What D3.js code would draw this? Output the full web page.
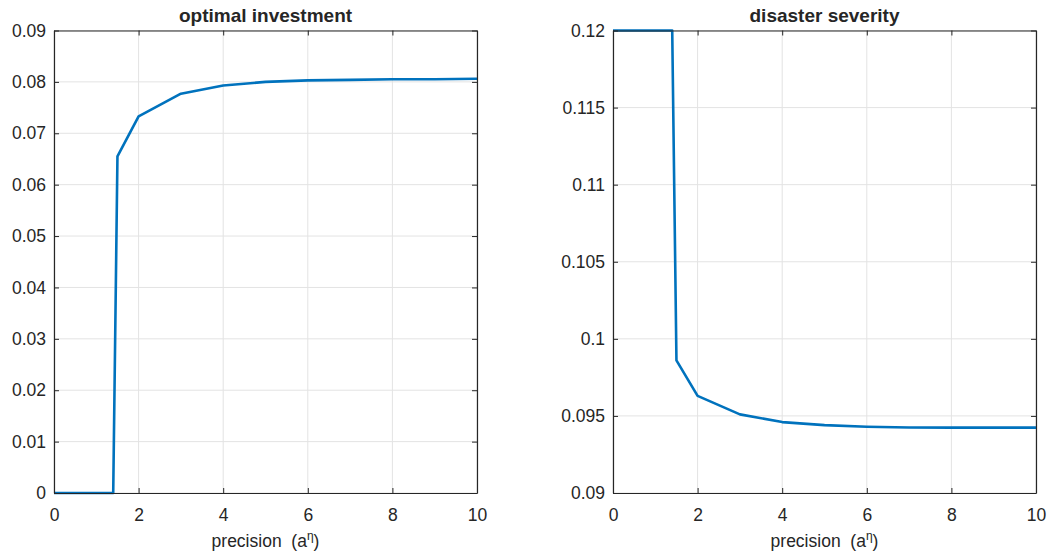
<!DOCTYPE html>
<html>
<head>
<meta charset="utf-8">
<script src="https://cdn.jsdelivr.net/npm/d3@7"></script>
<style>
  html, body { margin: 0; padding: 0; background: #fff; }
  svg text { font-family: "Liberation Sans", Arial, sans-serif; fill: #262626; }
</style>
</head>
<body>
<svg id="chart" width="1052" height="555"></svg>
<script>
// precision grid (a^eta)
const precision = [0, 1.4, 1.5, 2, 3, 4, 5, 6, 7, 8, 9, 10];
// optimal investment at each precision level
const investment = [0, 0, 0.0655, 0.0733, 0.0777, 0.0793, 0.0800, 0.0803, 0.0804, 0.0805, 0.0805, 0.0806];
// resulting disaster severity
const severity = [0.12, 0.12, 0.0986, 0.0963, 0.0951, 0.0946, 0.0944, 0.0943, 0.09425, 0.09424, 0.09424, 0.09424];

const xTicks = [0, 2, 4, 6, 8, 10];
const yTicksLeft = [0, 0.01, 0.02, 0.03, 0.04, 0.05, 0.06, 0.07, 0.08, 0.09];
const yLabelsLeft = ["0", "0.01", "0.02", "0.03", "0.04", "0.05", "0.06", "0.07", "0.08", "0.09"];
const yTicksRight = [0.09, 0.095, 0.1, 0.105, 0.11, 0.115, 0.12];
const yLabelsRight = ["0.09", "0.095", "0.1", "0.105", "0.11", "0.115", "0.12"];

const svg = d3.select("#chart");
const FS = 17.5;

function panel(opts) {
  const { left, right, top, bottom, ydomain, yticks, ylabels, values, title } = opts;
  const x = d3.scaleLinear().domain([0, 10]).range([left, right]);
  const y = d3.scaleLinear().domain(ydomain).range([bottom, top]);
  const g = svg.append("g");

  // grid
  g.append("g").selectAll("line").data(xTicks).join("line")
    .attr("x1", d => x(d)).attr("x2", d => x(d))
    .attr("y1", top).attr("y2", bottom)
    .attr("stroke", "#e3e3e3").attr("stroke-width", 1);
  g.append("g").selectAll("line").data(yticks).join("line")
    .attr("x1", left).attr("x2", right)
    .attr("y1", d => y(d)).attr("y2", d => y(d))
    .attr("stroke", "#e3e3e3").attr("stroke-width", 1);

  // data line
  const line = d3.line().x((d, i) => x(precision[i])).y(d => y(d));
  g.append("path").datum(values)
    .attr("d", line)
    .attr("fill", "none")
    .attr("stroke", "#0072BD")
    .attr("stroke-width", 2.6)
    .attr("stroke-linejoin", "round");

  // axes with inward ticks on all four sides
  const tk = 5;
  const axB = d3.axisBottom(x).tickValues(xTicks).tickSizeInner(-tk).tickSizeOuter(0).tickFormat(d3.format("d")).tickPadding(16);
  const axT = d3.axisTop(x).tickValues(xTicks).tickSizeInner(-tk).tickSizeOuter(0).tickFormat("");
  const axL = d3.axisLeft(y).tickValues(yticks).tickSizeInner(-tk).tickSizeOuter(0)
    .tickFormat((d, i) => ylabels[i]).tickPadding(8);
  const axR = d3.axisRight(y).tickValues(yticks).tickSizeInner(-tk).tickSizeOuter(0).tickFormat("");

  [[axB, `translate(0,${bottom})`], [axT, `translate(0,${top})`],
   [axL, `translate(${left},0)`], [axR, `translate(${right},0)`]].forEach(([ax, tr]) => {
    const a = g.append("g").attr("transform", tr).call(ax);
    a.select(".domain").attr("stroke", "#262626").attr("stroke-width", 1.2);
    a.selectAll(".tick line").attr("stroke", "#262626");
    a.selectAll("text").attr("font-size", FS).attr("font-family", null).attr("fill", "#262626");
  });

  // title
  g.append("text")
    .attr("x", (left + right) / 2).attr("y", top - 8.5)
    .attr("text-anchor", "middle")
    .attr("font-size", 19).attr("font-weight", "bold")
    .attr("fill", "#000")
    .text(title);

  // x label with superscript eta
  const xl = g.append("text")
    .attr("x", (left + right) / 2).attr("y", bottom + 54)
    .attr("text-anchor", "middle")
    .attr("font-size", FS);
  xl.append("tspan").text("precision\u00a0\u00a0(a");
  xl.append("tspan").attr("dy", -7).attr("font-size", 12).text("\u03b7");
  xl.append("tspan").attr("dy", 7).text(")");
}

panel({ left: 54, right: 477, top: 30.5, bottom: 493, ydomain: [0, 0.09],
        yticks: yTicksLeft, ylabels: yLabelsLeft, values: investment, title: "optimal investment" });
panel({ left: 613, right: 1036, top: 30.5, bottom: 493, ydomain: [0.09, 0.12],
        yticks: yTicksRight, ylabels: yLabelsRight, values: severity, title: "disaster severity" });
</script>
</body>
</html>
